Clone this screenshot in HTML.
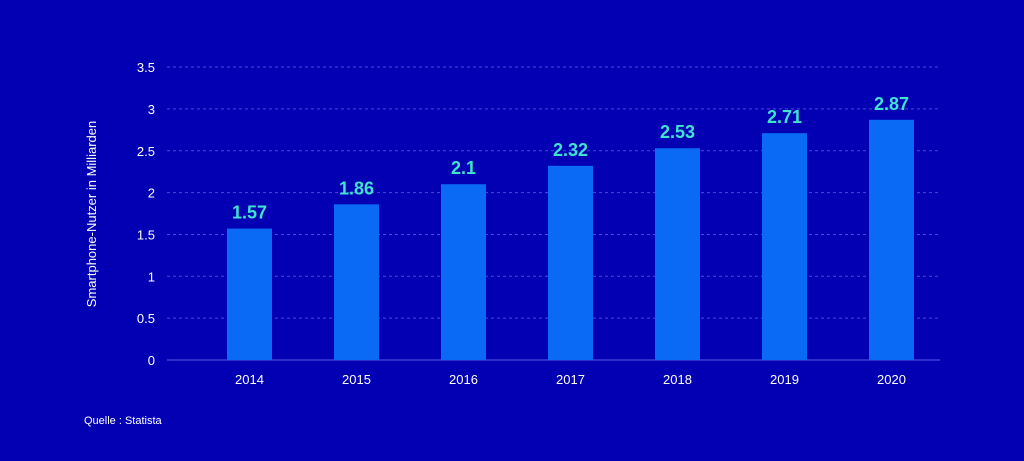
<!DOCTYPE html>
<html><head><meta charset="utf-8"><style>
body{margin:0;width:1024px;height:456px;background:#0300b4;overflow:hidden;font-family:"Liberation Sans",sans-serif}
</style></head><body>
<svg width="1024" height="456" id="c"></svg>
<script>
const categories=["2014","2015","2016","2017","2018","2019","2020"];
const values=[1.57,1.86,2.1,2.32,2.53,2.71,2.87];
const valueLabels=["1.57","1.86","2.1","2.32","2.53","2.71","2.87"];
const yTicks=[0,0.5,1,1.5,2,2.5,3,3.5];
const yTickLabels=["0","0.5","1","1.5","2","2.5","3","3.5"];
const svg=document.getElementById('c');
const NS="http://www.w3.org/2000/svg";
const y=v=>360-v*83.7;
const x=i=>249.5+107*i;
function mk(t,a,txt){const e=document.createElementNS(NS,t);for(const k in a)e.setAttribute(k,a[k]);if(txt!==undefined)e.textContent=txt;svg.appendChild(e);return e;}
yTicks.forEach((v,i)=>{
 if(v>0){const g=mk('line',{x1:167,x2:940,y1:y(v),y2:y(v),stroke:'#4a4ad6','stroke-width':1,'stroke-dasharray':'3,3'});
 
 }
 const t=mk('text',{x:155,y:y(v)+5,'text-anchor':'end',fill:'#fff','font-size':13},yTickLabels[i]);
 
 
});
const ax=mk('line',{x1:167,x2:940,y1:360,y2:360,stroke:'#3d3dd8','stroke-width':1.5});


categories.forEach((c,i)=>{
 const b=mk('rect',{x:x(i)-22.5,y:y(values[i]),width:45,height:360-y(values[i]),fill:'#0a6af5'});
 
 
 const l=mk('text',{x:x(i),y:y(values[i])-10,'text-anchor':'middle',fill:'#3fe3cf','font-size':18,'font-weight':'bold'},valueLabels[i]);
 
 
 const t=mk('text',{x:x(i),y:384,'text-anchor':'middle',fill:'#fff','font-size':13},c);
 
 
});
const yt=mk('text',{x:0,y:0,transform:'translate(96,214) rotate(-90)','text-anchor':'middle',fill:'#fff','font-size':13},'Smartphone-Nutzer in Milliarden');


const src=mk('text',{x:84,y:424,fill:'#fff','font-size':11},'Quelle : Statista');


</script>
</body></html>
